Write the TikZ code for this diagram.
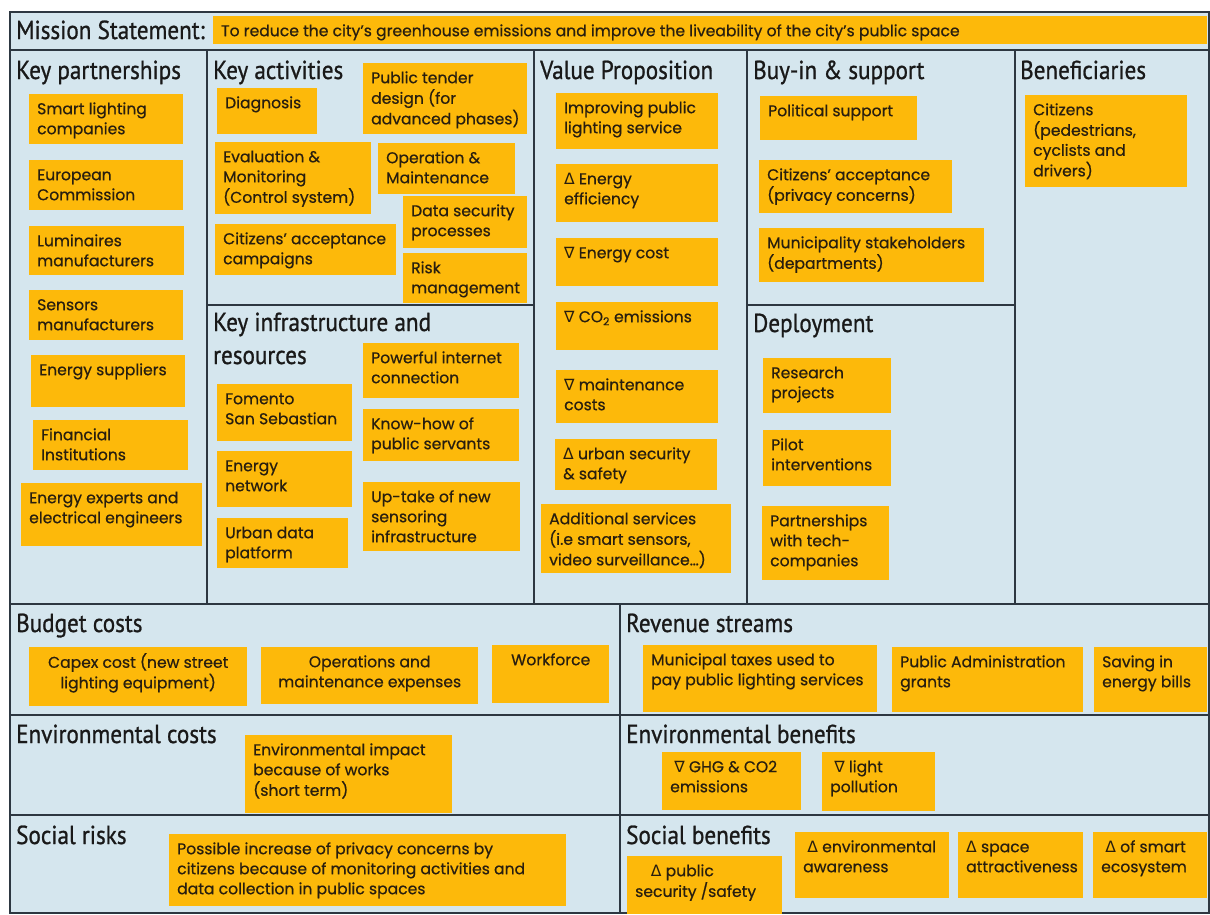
\documentclass[tikz,border=0pt]{standalone}
\usepackage{fontspec}
\setmainfont{Poppins}[FakeBold=0.6]
\newfontfamily\hdrfont[FakeStretch=0.89,FakeBold=0.9]{PT Sans}
\newfontfamily\symfont{DejaVu Sans}
\newcommand\up{{\symfont Δ}}
\newcommand\dn{{\symfont ∇}}
\definecolor{bgc}{RGB}{213,230,238}
\definecolor{notec}{RGB}{253,185,10}
\definecolor{linec}{RGB}{45,55,65}
\definecolor{txtc}{RGB}{40,30,15}
\tikzset{
  stk/.style={fill=notec, inner xsep=8pt, inner ysep=6pt, text=txtc,
    font=\fontsize{15.6}{20}\selectfont},
  hdr/.style={anchor=base west, inner sep=0pt, text=black!90,
    font=\hdrfont\fontsize{26}{30}\selectfont},
  grid/.style={draw=linec, line width=1.5pt}
}
\newcommand\stk[7][l]{%
  \pgfmathsetmacro\stkw{#5-#3-16}%
  \pgfmathsetmacro\stkh{#6-#4-12}%
  \node[stk, anchor=north west] (#2) at (#3,#4)
    {\parbox[t][\stkh pt][t]{\stkw pt}{\ifx c#1\centering\fi\begin{tabular}[t]{@{}#1@{}}#7\end{tabular}}};%
}
\begin{document}
\begin{tikzpicture}[x=1pt,y=-1pt]
\useasboundingbox (0,0) rectangle (1210,914);
\fill[bgc] (10,12) rectangle (1209,914);
% grid
\draw[grid, line width=2pt] (10,12) rectangle (1209,913);
\draw[grid] (10,50) -- (1209,50);
\draw[grid] (10,604) -- (1209,604);
\draw[grid] (207,50) -- (207,604);
\draw[grid] (534,50) -- (534,604);
\draw[grid] (747,50) -- (747,604);
\draw[grid] (1015,50) -- (1015,604);
\draw[grid] (207,305) -- (534,305);
\draw[grid] (747,305) -- (1015,305);
\draw[grid] (620,604) -- (620,913);
\draw[grid] (10,715) -- (1209,715);
\draw[grid] (10,815) -- (1209,815);
% headers
\node[hdr] (hms) at (16,39) {Mission Statement:};
\node[hdr] (hkp) at (16,79) {Key partnerships};
\node[hdr] (hka) at (213,79) {Key activities};
\node[hdr] (hkr) at (213,331) {Key infrastructure and};
\node[hdr] (hkr2) at (213,364) {resources};
\node[hdr] (hvp) at (540,79) {Value Proposition};
\node[hdr] (hbs) at (753,79) {Buy-in \& support};
\node[hdr] (hdp) at (753,332) {Deployment};
\node[hdr] (hbn) at (1020,79) {Beneficiaries};
\node[hdr] (hbc) at (16,632) {Budget costs};
\node[hdr] (hec) at (16,743) {Environmental costs};
\node[hdr] (hsr) at (16,844) {Social risks};
\node[hdr] (hrs) at (626,632) {Revenue streams};
\node[hdr] (heb) at (626,743) {Environmental benefits};
\node[hdr] (hsb) at (626,844) {Social benefits};
% mission
\stk{ms}{213}{16}{1207}{44}{To reduce the city’s greenhouse emissions and improve the liveability of the city’s public space}
% key partnerships
\stk{kp1}{29}{94}{183}{144}{Smart lighting\\companies}
\stk{kp2}{29}{160}{183}{210}{European\\Commission}
\stk{kp3}{29}{226}{184}{275}{Luminaires\\manufacturers}
\stk{kp4}{29}{290}{183}{340}{Sensors\\manufacturers}
\stk{kp5}{31}{355}{185}{407}{Energy suppliers}
\stk{kp6}{33}{420}{188}{470}{Financial\\Institutions}
\stk{kp7}{21}{483}{202}{546}{Energy experts and\\electrical engineers}
% key activities
\stk{ka1}{217}{88}{317}{134}{Diagnosis}
\stk{ka2}{363}{63}{527}{134}{Public tender\\design (for\\advanced phases)}
\stk{ka3}{215}{142}{371}{214}{Evaluation \&\\Monitoring\\(Control system)}
\stk{ka4}{378}{143}{515}{194}{Operation \&\\Maintenance}
\stk{ka5}{403}{196}{527}{248}{Data security\\processes}
\stk{ka6}{215}{224}{396}{275}{Citizens’ acceptance\\campaigns}
\stk{ka7}{403}{253}{527}{303}{Risk\\management}
% key infrastructure and resources
\stk{kr1}{363}{343}{519}{398}{Powerful internet\\connection}
\stk{kr2}{217}{384}{352}{441}{Fomento\\San Sebastian}
\stk{kr3}{363}{409}{519}{461}{Know-how of\\public servants}
\stk{kr4}{217}{451}{352}{507}{Energy\\network}
\stk{kr5}{363}{482}{520}{551}{Up-take of new\\sensoring\\infrastructure}
\stk{kr6}{217}{518}{348}{568}{Urban data\\platform}
% value proposition
\stk{vp1}{556}{93}{718}{149}{Improving public\\lighting service}
\stk{vp2}{556}{164}{718}{222}{\up{} Energy\\efficiency}
\stk{vp3}{556}{238}{718}{286}{\dn{} Energy cost}
\stk{vp4}{556}{302}{718}{350}{\dn{} CO\textsubscript{2} emissions}
\stk{vp5}{556}{370}{718}{423}{\dn{} maintenance\\costs}
\stk{vp6}{555}{439}{717}{490}{\up{} urban security\\\& safety}
\stk{vp7}{541}{504}{731}{573}{Additional services\\(i.e smart sensors,\\video surveillance…)}
% buy-in & support
\stk{bs1}{760}{96}{917}{140}{Political support}
\stk{bs2}{759}{160}{952}{213}{Citizens’ acceptance\\(privacy concerns)}
\stk{bs3}{759}{228}{984}{282}{Municipality stakeholders\\(departments)}
% deployment
\stk{dp1}{763}{358}{891}{413}{Research\\projects}
\stk{dp2}{763}{430}{891}{486}{Pilot\\interventions}
\stk{dp3}{762}{506}{889}{580}{Partnerships\\with tech-\\companies}
% beneficiaries
\stk{bn1}{1025}{95}{1187}{187}{Citizens\\(pedestrians,\\cyclists and\\drivers)}
% budget costs
\stk[c]{bc1}{29}{647}{247}{706}{Capex cost (new street\\lighting equipment)}
\stk[c]{bc2}{261}{647}{478}{704}{Operations and\\maintenance expenses}
\stk[c]{bc3}{492}{645}{609}{703}{Workforce}
% environmental costs
\stk{ec1}{245}{735}{452}{813}{Environmental impact\\because of works\\(short term)}
% social risks
\stk{sr1}{169}{834}{566}{906}{Possible increase of privacy concerns by\\citizens because of monitoring activities and\\data collection in public spaces}
% revenue streams
\stk{rs1}{643}{645}{877}{712}{Municipal taxes used to\\pay public lighting services}
\stk{rs2}{892}{647}{1083}{712}{Public Administration\\grants}
\stk{rs3}{1094}{647}{1207}{712}{Saving in\\energy bills}
% environmental benefits
\stk{eb1}{662}{752}{801}{810}{\ \dn{} GHG \& CO2\\emissions}
\stk{eb2}{822}{752}{935}{811}{\ \dn{} light\\pollution}
% social benefits
\stk{sb1}{627}{856}{782}{914}{\quad\up{} public\\security /safety}
\stk{sb2}{795}{832}{949}{898}{\ \up{} environmental\\awareness}
\stk{sb3}{958}{832}{1083}{898}{\up{} space\\attractiveness}
\stk{sb4}{1093}{832}{1207}{898}{\ \up{} of smart\\ecosystem}
\end{tikzpicture}
\end{document}
